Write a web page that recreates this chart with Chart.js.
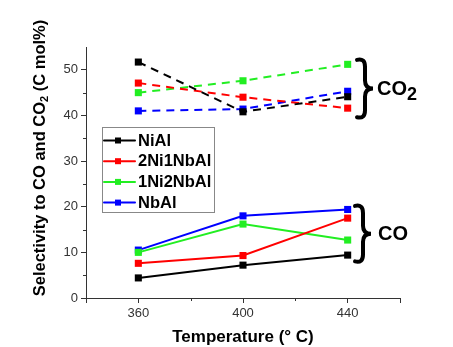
<!DOCTYPE html>
<html>
<head>
<meta charset="utf-8">
<script src="https://cdn.jsdelivr.net/npm/chart.js@4.4.1/dist/chart.umd.min.js"></script>
<style>
  html, body { margin: 0; padding: 0; background: #fff; }
</style>
</head>
<body>
<canvas id="selectivityChart" width="453" height="347"></canvas>
<script>
// Temperatures (x) and catalysts
var temperatures = [360, 400, 440];
var catalysts = ['NiAl', '2Ni1NbAl', '1Ni2NbAl', 'NbAl'];
var colors = ['#000000', '#ff0000', '#22ee22', '#0000ff'];

// Selectivity to CO (solid lines)
var coValues = [
    [4.4, 7.2, 9.4],
    [7.6, 9.3, 17.5],
    [10.0, 16.2, 12.7],
    [10.5, 18.0, 19.4]
];

// Selectivity to CO2 (dashed lines)
var co2Values = [
    [51.7, 40.8, 44.1],
    [47.1, 44.0, 41.6],
    [45.0, 47.6, 51.2],
    [41.0, 41.4, 45.3]
];

var xTickLabels = [360, 400, 440];
var yTickLabels = [0, 10, 20, 30, 40, 50];

var FONT = "'Liberation Sans', Arial, sans-serif";

function points(values) {
    return temperatures.map(function (t, i) { return { x: t, y: values[i] }; });
}

var datasets = [];
catalysts.forEach(function (name, i) {
    datasets.push({
        label: name,
        data: points(coValues[i]),
        borderColor: colors[i],
        backgroundColor: colors[i],
        borderWidth: 2,
        pointStyle: 'rect',
        pointRadius: 5,
        pointBorderWidth: 0,
        tension: 0
    });
});
catalysts.forEach(function (name, i) {
    datasets.push({
        label: name + ' CO2',
        data: points(co2Values[i]),
        borderColor: colors[i],
        backgroundColor: colors[i],
        borderWidth: 2,
        borderDash: [8, 6],
        pointStyle: 'rect',
        pointRadius: 5,
        pointBorderWidth: 0,
        tension: 0
    });
});

// Draws a right-facing curly brace between yTop and yBottom
function drawBrace(ctx, x, yTop, yBottom, w) {
    var yMid = (yTop + yBottom) / 2;
    var r = 8;
    ctx.beginPath();
    ctx.moveTo(x, yTop + 1);
    ctx.quadraticCurveTo(x + w * 0.5, yTop - 1, x + w * 0.5, yTop + r);
    ctx.lineTo(x + w * 0.5, yMid - r);
    ctx.quadraticCurveTo(x + w * 0.5, yMid, x + w, yMid);
    ctx.quadraticCurveTo(x + w * 0.5, yMid, x + w * 0.5, yMid + r);
    ctx.lineTo(x + w * 0.5, yBottom - r);
    ctx.quadraticCurveTo(x + w * 0.5, yBottom + 1, x, yBottom - 1);
    ctx.stroke();
}

var extras = {
    id: 'extras',
    afterDraw: function (chart) {
        var ctx = chart.ctx;
        var xs = chart.scales.x, ys = chart.scales.y;
        var area = chart.chartArea;
        ctx.save();

        // minor ticks
        ctx.strokeStyle = '#333';
        ctx.lineWidth = 1;
        ctx.beginPath();
        for (var v = 5; v < 55; v += 10) {
            var py = Math.round(ys.getPixelForValue(v)) + 0.5;
            ctx.moveTo(area.left - 3, py);
            ctx.lineTo(area.left, py);
        }
        [380, 420].forEach(function (t) {
            var px = Math.round(xs.getPixelForValue(t)) + 0.5;
            ctx.moveTo(px, area.bottom);
            ctx.lineTo(px, area.bottom + 3);
        });
        ctx.stroke();

        // axis titles
        ctx.fillStyle = '#000';
        ctx.textBaseline = 'middle';
        ctx.textAlign = 'center';
        ctx.font = 'bold 17px ' + FONT;
        ctx.fillText('Temperature (° C)', 243, 337);

        ctx.save();
        ctx.translate(40, 158);
        ctx.rotate(-Math.PI / 2);
        ctx.textAlign = 'left';
        ctx.font = 'bold 16.5px ' + FONT;
        var part1 = 'Selectivity to CO and CO';
        var part3 = ' (C mol%)';
        var w1 = ctx.measureText(part1).width;
        var w3 = ctx.measureText(part3).width;
        ctx.font = 'bold 11px ' + FONT;
        var w2 = ctx.measureText('2').width;
        var start = -(w1 + w2 + w3) / 2;
        ctx.font = 'bold 16.5px ' + FONT;
        ctx.fillText(part1, start, 0);
        ctx.font = 'bold 11px ' + FONT;
        ctx.fillText('2', start + w1, 5);
        ctx.font = 'bold 16.5px ' + FONT;
        ctx.fillText(part3, start + w1 + w2, 0);
        ctx.restore();

        // braces and group labels
        ctx.strokeStyle = '#000';
        ctx.lineWidth = 4;
        ctx.lineCap = 'round';
        drawBrace(ctx, 357, ys.getPixelForValue(52.4), ys.getPixelForValue(39.4), 16);
        drawBrace(ctx, 355, ys.getPixelForValue(20.4), ys.getPixelForValue(7.8), 16);
        ctx.textAlign = 'left';
        ctx.textBaseline = 'middle';
        ctx.font = 'bold 20px ' + FONT;
        ctx.fillText('CO', 377, ys.getPixelForValue(45.8));
        var wco = ctx.measureText('CO').width;
        ctx.font = 'bold 18px ' + FONT;
        ctx.fillText('2', 377 + wco, ys.getPixelForValue(45.8) + 6);
        ctx.font = 'bold 20px ' + FONT;
        ctx.fillText('CO', 378, ys.getPixelForValue(14));

        // legend box
        var lx = 102, ly = 127, lw = 112, lh = 85;
        ctx.fillStyle = '#fff';
        ctx.fillRect(lx, ly, lw, lh);
        ctx.strokeStyle = '#888';
        ctx.lineWidth = 1;
        ctx.strokeRect(lx + 0.5, ly + 0.5, lw, lh);
        ctx.font = 'bold 16.5px ' + FONT;
        catalysts.forEach(function (name, i) {
            var ry = ly + 13.5 + i * 20.7;
            ctx.strokeStyle = colors[i];
            ctx.lineWidth = 2;
            ctx.beginPath();
            ctx.moveTo(lx + 2, ry);
            ctx.lineTo(lx + 33, ry);
            ctx.stroke();
            ctx.fillStyle = colors[i];
            ctx.fillRect(lx + 13, ry - 3, 6, 6);
            ctx.fillStyle = '#000';
            ctx.fillText(name, lx + 36, ry + 0.5);
        });
        ctx.restore();
    }
};

new Chart(document.getElementById('selectivityChart'), {
    type: 'line',
    data: { datasets: datasets },
    plugins: [extras],
    options: {
        responsive: false,
        animation: false,
        layout: { padding: { left: 0, right: 53, top: 47, bottom: 0 } },
        plugins: {
            legend: { display: false },
            tooltip: { enabled: false }
        },
        scales: {
            x: {
                type: 'linear',
                min: 340,
                max: 460,
                afterFit: function (scale) { scale.height = 49; },
                afterBuildTicks: function (scale) {
                    scale.ticks = [340, 360, 400, 440, 460].map(function (v) { return { value: v }; });
                },
                ticks: {
                    color: '#333',
                    font: { family: FONT, size: 13 },
                    padding: 3,
                    maxRotation: 0,
                    callback: function (v) { return xTickLabels.indexOf(v) >= 0 ? String(v) : ''; }
                },
                grid: { drawOnChartArea: false, tickLength: 5, color: '#333' },
                border: { color: '#333', width: 1 }
            },
            y: {
                min: 0,
                max: 55,
                afterFit: function (scale) { scale.width = 86; },
                afterBuildTicks: function (scale) {
                    scale.ticks = yTickLabels.map(function (v) { return { value: v }; });
                },
                ticks: {
                    color: '#333',
                    font: { family: FONT, size: 13 },
                    padding: 3
                },
                grid: { drawOnChartArea: false, tickLength: 5, color: '#333' },
                border: { color: '#333', width: 1 }
            }
        }
    }
});
</script>
</body>
</html>
